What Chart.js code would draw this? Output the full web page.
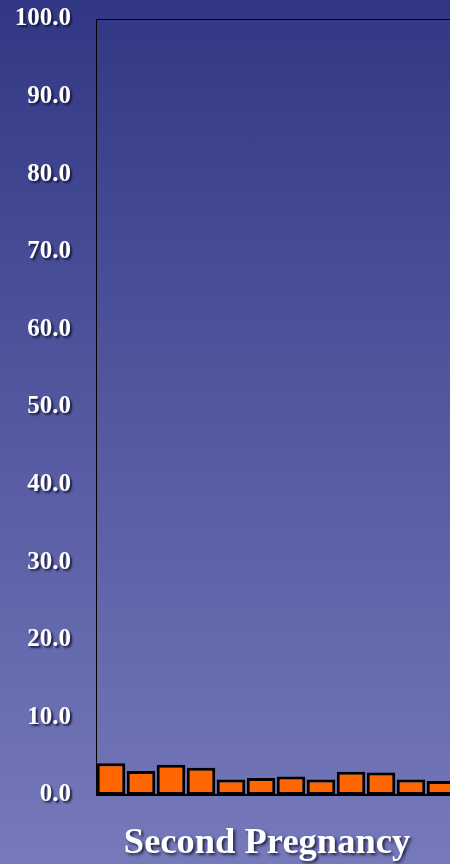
<!DOCTYPE html>
<html>
<head>
<meta charset="utf-8">
<script src="https://cdn.jsdelivr.net/npm/chart.js@4/dist/chart.umd.min.js"></script>
<style>
    html, body {
        margin: 0;
        padding: 0;
        width: 450px;
        height: 864px;
        overflow: hidden;
        background: linear-gradient(to bottom, #313784 0%, #5459a1 50%, #767abb 100%);
    }
    #wrap {
        position: relative;
        width: 460px;
        height: 864px;
    }
</style>
</head>
<body>
<div id="wrap"><canvas id="chart"></canvas></div>
<script>
const categories = ['1', '2', '3', '4', '5', '6', '7', '8', '9', '10', '11', '12'];
const values = [4.1, 3.1, 3.9, 3.5, 2.0, 2.2, 2.4, 2.0, 3.0, 2.9, 2.0, 1.8];
const yTicks = [0, 10, 20, 30, 40, 50, 60, 70, 80, 90, 100];
const captionText = 'Second Pregnancy';

const serif = '"Liberation Serif", "Times New Roman", serif';

// sombra suave para los textos de los ejes, se quita antes de pintar las barras
const textShadow = {
    id: 'textShadow',
    beforeDraw: (chart) => {
        const ctx = chart.ctx;
        ctx.save();
        ctx.shadowColor = 'rgba(20, 20, 50, 0.85)';
        ctx.shadowOffsetX = 2;
        ctx.shadowOffsetY = 2;
        ctx.shadowBlur = 2;
    },
    beforeDatasetsDraw: (chart) => {
        chart.ctx.restore();
    }
};

// marco del area de dibujo y rotulo inferior
const frame = {
    id: 'frame',
    afterDatasetsDraw: (chart) => {
        const ctx = chart.ctx;
        const { left, top, right, bottom } = chart.chartArea;

        ctx.save();
        ctx.strokeStyle = '#000';
        ctx.lineWidth = 1;
        ctx.beginPath();
        ctx.moveTo(right, top + 0.5);
        ctx.lineTo(left + 0.5, top + 0.5);
        ctx.lineTo(left + 0.5, bottom);
        ctx.stroke();
        ctx.lineWidth = 2;
        ctx.beginPath();
        ctx.moveTo(left, bottom);
        ctx.lineTo(right, bottom);
        ctx.stroke();

        ctx.shadowColor = 'rgba(20, 20, 50, 0.85)';
        ctx.shadowOffsetX = 2;
        ctx.shadowOffsetY = 2;
        ctx.shadowBlur = 3;
        ctx.fillStyle = '#fff';
        ctx.font = 'bold 36.5px ' + serif;
        ctx.textAlign = 'center';
        ctx.textBaseline = 'alphabetic';
        ctx.fillText(captionText, left + 171, bottom + 58);
        ctx.restore();
    }
};

const config = {
    type: 'bar',
    data: {
        labels: categories,
        datasets: [{
            data: values,
            backgroundColor: '#ff6600',
            borderColor: '#000',
            borderWidth: 3,
            borderSkipped: false,
            categoryPercentage: 1,
            barPercentage: 0.95
        }]
    },
    options: {
        responsive: true,
        maintainAspectRatio: false,
        animation: false,
        layout: {
            padding: { top: 19, right: 4, left: 0, bottom: 0 }
        },
        plugins: {
            legend: { display: false },
            title: { display: false },
            tooltip: { enabled: false }
        },
        scales: {
            x: {
                grid: { display: false, drawTicks: false },
                border: { display: false },
                ticks: { display: false },
                afterFit: (scale) => { scale.height = 69; }
            },
            y: {
                min: 0,
                max: 100,
                grid: { display: false, drawTicks: false },
                border: { display: false },
                afterFit: (scale) => {
                    scale.width = 96;
                    // el padding de los ticks no debe empujar el area hacia abajo
                    scale.paddingTop = 0;
                    scale.paddingBottom = 0;
                },
                afterBuildTicks: (scale) => {
                    scale.ticks = yTicks.map(v => ({ value: v }));
                },
                ticks: {
                    color: '#fff',
                    padding: 25,
                    font: { family: serif, size: 25, weight: 'bold' },
                    callback: (value) => Number(value).toFixed(1)
                }
            }
        }
    },
    plugins: [textShadow, frame]
};

new Chart(document.getElementById('chart'), config);
</script>
</body>
</html>
